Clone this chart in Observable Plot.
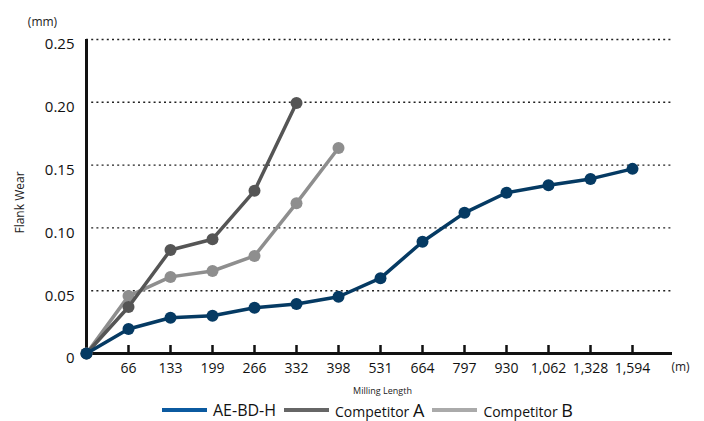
<!DOCTYPE html>
<html>
<head>
<meta charset="utf-8">
<script src="https://cdn.jsdelivr.net/npm/d3@7"></script>
<script src="https://cdn.jsdelivr.net/npm/@observablehq/plot@0.6"></script>
<style>
  body { margin: 0; background: #fff; font-family: "Open Sans", sans-serif; }
  #wrap { position: relative; width: 704px; height: 421px; }
  #legend { position: absolute; left: 162px; top: 398px; display: flex; align-items: center; white-space: nowrap; color: #111; }
  .sw { display: inline-block; width: 45px; height: 4px; margin-right: 6px; }
  .it { display: flex; align-items: center; margin-right: 8px; font-size: 14px; }
  .big { font-size: 18px; }
</style>
</head>
<body>
<div id="wrap">
  <div id="chart"></div>
  <div id="legend"></div>
</div>
<script>
const lengths = ["0", "66", "133", "199", "266", "332", "398", "531", "664", "797", "930", "1,062", "1,328", "1,594"];
const aeValues = [0, 0.0195, 0.0285, 0.030, 0.0364, 0.0394, 0.0452, 0.060, 0.089, 0.112, 0.128, 0.134, 0.139, 0.147];
const compAValues = [0, 0.037, 0.0824, 0.091, 0.1295, 0.1995];
const compBValues = [0, 0.0457, 0.061, 0.0657, 0.0777, 0.1197, 0.1636];
const yTicks = [0, 0.05, 0.10, 0.15, 0.20, 0.25];
const gridValues = [0.05, 0.10, 0.15, 0.20, 0.25];

const seriesNames = ["AE-BD-H", "Competitor A", "Competitor B"];
const lineColors = ["#053a63", "#555555", "#8e8e8e"];
const legendColors = ["#0b5aa0", "#666666", "#aaaaaa"];

const toRows = (vals, name) => vals.map((v, i) => ({x: lengths[i], y: v, s: name}));
const ae = toRows(aeValues, seriesNames[0]);
const ca = toRows(compAValues, seriesNames[1]);
const cb = toRows(compBValues, seriesNames[2]);

const font = "Open Sans, sans-serif";

const plot = Plot.plot({
  width: 704,
  height: 400,
  marginLeft: 86,
  marginRight: 32,
  marginTop: 39,
  marginBottom: 47,
  style: {fontFamily: font, background: "#fff", color: "#111"},
  x: {type: "point", domain: lengths, padding: 0.476, align: 0},
  y: {domain: [0, 0.25]},
  marks: [
    Plot.ruleY(gridValues, {stroke: "#222", strokeWidth: 1.4, strokeDasharray: "2,3.2"}),
    Plot.axisY({ticks: yTicks, tickSize: 0, tickPadding: 12, fontSize: 15, label: null, dy: 5,
      tickFormat: d => d === 0 ? "0" : d.toFixed(2)}),
    Plot.axisX({ticks: lengths.slice(1), tickSize: 0, tickPadding: 10, fontSize: 14,
      fontFamily: "Liberation Sans Narrow, Open Sans, sans-serif", label: null}),
    Plot.axisX({ticks: lengths.slice(1), tickSize: -8, text: null, strokeWidth: 2.5, label: null, stroke: "#111"}),
    Plot.ruleY([0], {stroke: "#111", strokeWidth: 3}),
    Plot.ruleX([lengths[0]], {y1: 0, y2: 0.25, stroke: "#111", strokeWidth: 3}),
    Plot.line(cb, {x: "x", y: "y", stroke: lineColors[2], strokeWidth: 3.5}),
    Plot.dot(cb, {x: "x", y: "y", fill: lineColors[2], r: 6}),
    Plot.line(ca, {x: "x", y: "y", stroke: lineColors[1], strokeWidth: 3.5}),
    Plot.dot(ca, {x: "x", y: "y", fill: lineColors[1], r: 6}),
    Plot.line(ae, {x: "x", y: "y", stroke: lineColors[0], strokeWidth: 3.5}),
    Plot.dot(ae, {x: "x", y: "y", fill: lineColors[0], r: 6}),
    Plot.text(["(mm)"], {frameAnchor: "top-left", textAnchor: "middle", dx: -44, dy: -22, fontSize: 12, fill: "#222"}),
    Plot.text(["(m)"], {frameAnchor: "bottom-right", textAnchor: "middle", dx: 8, dy: 17, fontSize: 12, fill: "#222"}),
    Plot.text(["Milling Length"], {frameAnchor: "bottom", dx: 3, dy: 40, fontSize: 9, fill: "#222"}),
    Plot.text(["Flank Wear"], {frameAnchor: "left", textAnchor: "middle", dx: -66, dy: 6, rotate: -90, fontSize: 12, fill: "#222"})
  ]
});
document.getElementById("chart").appendChild(plot);

const legend = document.getElementById("legend");
seriesNames.forEach((name, i) => {
  const it = document.createElement("div");
  it.className = "it";
  const sw = document.createElement("span");
  sw.className = "sw";
  sw.style.background = legendColors[i];
  it.appendChild(sw);
  const t = document.createElement("span");
  if (i === 0) {
    t.textContent = name;
    t.style.fontSize = "16px";
  } else {
    const parts = name.split(" ");
    t.appendChild(document.createTextNode(parts[0] + " "));
    const b = document.createElement("span");
    b.className = "big";
    b.textContent = parts[1];
    t.appendChild(b);
  }
  it.appendChild(t);
  legend.appendChild(it);
});
</script>
</body>
</html>
